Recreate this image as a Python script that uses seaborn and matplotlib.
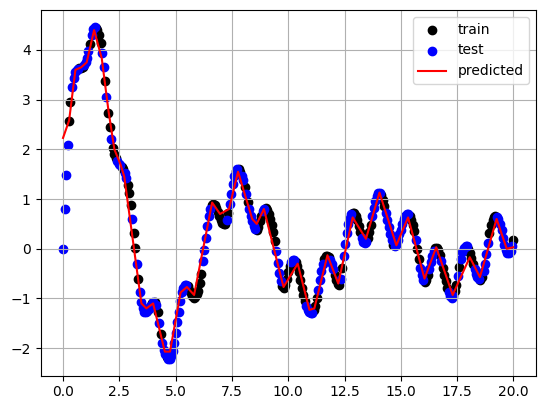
import matplotlib
matplotlib.use("Agg")
import matplotlib.pyplot as plt
import seaborn as sns
import numpy as np
import pandas as pd

# sample positions (15 per unit)
x_points = [
    0.00, 0.07, 0.13, 0.20, 0.27, 0.33, 0.40, 0.47, 0.53, 0.60, 0.67, 0.73, 0.80, 0.87, 0.93,
    1.00, 1.07, 1.13, 1.20, 1.27, 1.33, 1.40, 1.47, 1.53, 1.60, 1.67, 1.73, 1.80, 1.87, 1.93,
    2.00, 2.07, 2.13, 2.20, 2.27, 2.33, 2.40, 2.47, 2.53, 2.60, 2.67, 2.73, 2.80, 2.87, 2.93,
    3.00, 3.07, 3.13, 3.20, 3.27, 3.33, 3.40, 3.47, 3.53, 3.60, 3.67, 3.73, 3.80, 3.87, 3.93,
    4.00, 4.07, 4.13, 4.20, 4.27, 4.33, 4.40, 4.47, 4.53, 4.60, 4.67, 4.73, 4.80, 4.87, 4.93,
    5.00, 5.07, 5.13, 5.20, 5.27, 5.33, 5.40, 5.47, 5.53, 5.60, 5.67, 5.73, 5.80, 5.87, 5.93,
    6.00, 6.07, 6.13, 6.20, 6.27, 6.33, 6.40, 6.47, 6.53, 6.60, 6.67, 6.73, 6.80, 6.87, 6.93,
    7.00, 7.07, 7.13, 7.20, 7.27, 7.33, 7.40, 7.47, 7.53, 7.60, 7.67, 7.73, 7.80, 7.87, 7.93,
    8.00, 8.07, 8.13, 8.20, 8.27, 8.33, 8.40, 8.47, 8.53, 8.60, 8.67, 8.73, 8.80, 8.87, 8.93,
    9.00, 9.07, 9.13, 9.20, 9.27, 9.33, 9.40, 9.47, 9.53, 9.60, 9.67, 9.73, 9.80, 9.87, 9.93,
    10.00, 10.07, 10.13, 10.20, 10.27, 10.33, 10.40, 10.47, 10.53, 10.60, 10.67, 10.73, 10.80, 10.87, 10.93,
    11.00, 11.07, 11.13, 11.20, 11.27, 11.33, 11.40, 11.47, 11.53, 11.60, 11.67, 11.73, 11.80, 11.87, 11.93,
    12.00, 12.07, 12.13, 12.20, 12.27, 12.33, 12.40, 12.47, 12.53, 12.60, 12.67, 12.73, 12.80, 12.87, 12.93,
    13.00, 13.07, 13.13, 13.20, 13.27, 13.33, 13.40, 13.47, 13.53, 13.60, 13.67, 13.73, 13.80, 13.87, 13.93,
    14.00, 14.07, 14.13, 14.20, 14.27, 14.33, 14.40, 14.47, 14.53, 14.60, 14.67, 14.73, 14.80, 14.87, 14.93,
    15.00, 15.07, 15.13, 15.20, 15.27, 15.33, 15.40, 15.47, 15.53, 15.60, 15.67, 15.73, 15.80, 15.87, 15.93,
    16.00, 16.07, 16.13, 16.20, 16.27, 16.33, 16.40, 16.47, 16.53, 16.60, 16.67, 16.73, 16.80, 16.87, 16.93,
    17.00, 17.07, 17.13, 17.20, 17.27, 17.33, 17.40, 17.47, 17.53, 17.60, 17.67, 17.73, 17.80, 17.87, 17.93,
    18.00, 18.07, 18.13, 18.20, 18.27, 18.33, 18.40, 18.47, 18.53, 18.60, 18.67, 18.73, 18.80, 18.87, 18.93,
    19.00, 19.07, 19.13, 19.20, 19.27, 19.33, 19.40, 19.47, 19.53, 19.60, 19.67, 19.73, 19.80, 19.87, 19.93,
    20.00,
]

y_points = [
    0.00, 0.80, 1.49, 2.08, 2.57, 2.95, 3.25, 3.43, 3.55, 3.60, 3.62, 3.63, 3.64, 3.66, 3.70,
    3.75, 3.83, 3.97, 4.12, 4.30, 4.42, 4.47, 4.45, 4.40, 4.30, 4.15, 3.93, 3.65, 3.37, 3.05,
    2.73, 2.45, 2.20, 2.02, 1.90, 1.82, 1.76, 1.71, 1.68, 1.65, 1.60, 1.53, 1.42, 1.28, 1.12,
    0.88, 0.60, 0.32, 0.02, -0.30, -0.60, -0.88, -1.08, -1.20, -1.27, -1.28, -1.26, -1.22, -1.16, -1.10,
    -1.07, -1.08, -1.13, -1.28, -1.50, -1.72, -1.90, -2.03, -2.12, -2.18, -2.22, -2.22, -2.16, -2.06, -1.90,
    -1.70, -1.48, -1.27, -1.05, -0.88, -0.78, -0.73, -0.72, -0.75, -0.82, -0.90, -0.96, -0.99, -0.98, -0.92,
    -0.85, -0.68, -0.50, -0.25, -0.02, 0.22, 0.45, 0.65, 0.80, 0.88, 0.90, 0.88, 0.82, 0.74, 0.66,
    0.58, 0.52, 0.49, 0.50, 0.58, 0.72, 0.90, 1.10, 1.30, 1.47, 1.57, 1.61, 1.60, 1.55, 1.47,
    1.38, 1.25, 1.10, 0.95, 0.80, 0.66, 0.55, 0.45, 0.39, 0.38, 0.44, 0.55, 0.66, 0.76, 0.81,
    0.82, 0.78, 0.70, 0.60, 0.48, 0.33, 0.15, -0.05, -0.28, -0.48, -0.65, -0.75, -0.78, -0.72, -0.60,
    -0.47, -0.35, -0.27, -0.23, -0.22, -0.26, -0.34, -0.47, -0.62, -0.78, -0.93, -1.05, -1.15, -1.23, -1.28,
    -1.30, -1.29, -1.24, -1.15, -1.00, -0.82, -0.63, -0.45, -0.31, -0.21, -0.15, -0.14, -0.16, -0.22, -0.30,
    -0.40, -0.52, -0.63, -0.71, -0.72, -0.60, -0.38, -0.15, 0.10, 0.32, 0.50, 0.62, 0.69, 0.72, 0.71,
    0.66, 0.57, 0.45, 0.33, 0.21, 0.13, 0.11, 0.14, 0.22, 0.33, 0.48, 0.65, 0.82, 0.97, 1.07,
    1.12, 1.13, 1.08, 0.98, 0.86, 0.72, 0.58, 0.44, 0.30, 0.17, 0.08, 0.05, 0.08, 0.18, 0.30,
    0.38, 0.50, 0.60, 0.66, 0.69, 0.69, 0.65, 0.57, 0.47, 0.35, 0.18, 0.00, -0.20, -0.38, -0.52,
    -0.62, -0.66, -0.62, -0.52, -0.40, -0.27, -0.15, -0.05, 0.01, 0.02, -0.03, -0.12, -0.24, -0.38, -0.52,
    -0.65, -0.78, -0.88, -0.96, -0.99, -0.96, -0.86, -0.72, -0.55, -0.37, -0.20, -0.07, 0.02, 0.06, 0.05,
    0.00, -0.08, -0.18, -0.30, -0.41, -0.50, -0.57, -0.61, -0.62, -0.56, -0.45, -0.30, -0.10, 0.12, 0.32,
    0.47, 0.57, 0.63, 0.66, 0.64, 0.59, 0.50, 0.37, 0.22, 0.08, -0.03, -0.08, -0.09, -0.05, 0.05,
    0.18,
]

# k = train, b = test
split_codes = "".join([
    "bbbbkkbbbbbkkkb", "bbbkbbbkkkkbbkb", "kkbkkkbbbkkbbkk", "kbkkbkbbbbbkbbk",
    "bkbkbkbbbkbbbbb", "bbbbbbbbkkkkkkk", "kkkbbbbbbkkkkkk", "kkkkbkbbbbkbkkb",
    "bkbkbbbbbkkkkbb", "kkkkkkkbbbbkkkk", "kkbbbkkkkkkkbbb", "bbkkkbbbbkkkkbb",
    "bkkkkbkbbbbbbkk", "kkkkbbbbkkkbbbb", "bbkkkbbbbbkbbbb", "bbbbbbkkkkbkkbb",
    "bkkkbbbbkkkkbkk", "kkbbbbkkbkbbbbb", "kkkkbbbbkkbbbbk", "kkkkbbbbbbbbbbb",
    "k",
])

pred_x = [0.0, 0.27, 0.55, 0.8, 1.05, 1.38, 1.72, 2.02, 2.28, 2.55, 2.72, 3.48, 3.7, 4.0,
          4.52, 4.75, 5.22, 5.5, 5.82, 6.62, 6.97, 7.37, 7.77, 8.4, 8.6, 8.92, 9.79,
          10.42, 10.94, 11.16, 11.74, 12.22, 12.86, 13.45, 14.05, 14.8, 15.32, 16.05,
          16.57, 17.3, 18.06, 18.51, 19.25, 19.7, 19.99]
pred_y = [2.23, 2.58, 3.6, 3.65, 3.75, 4.4, 3.83, 2.77, 2.0, 1.7, 1.45, -1.1, -1.2, -1.1,
          -2.07, -2.07, -0.88, -0.77, -0.93, 0.93, 0.7, 0.8, 1.55, 0.6, 0.5, 0.8, -0.77,
          -0.3, -1.23, -1.2, -0.13, -0.7, 0.63, 0.2, 1.13, 0.07, 0.63, -0.6,
          0.03, -0.93, -0.17, -0.57, 0.6, 0.0, 0.03]

n = min(len(x_points), len(y_points), len(split_codes))
df = pd.DataFrame({"x": x_points[:n], "y": y_points[:n], "split": list(split_codes[:n])})
train = df[df["split"] == "k"]
test = df[df["split"] == "b"]

fig = plt.figure(figsize=(5.46, 4.13), dpi=100)
ax = fig.add_axes([40.5 / 546, (413 - 375.7) / 413, 495.5 / 546, 365.7 / 413])

sns.scatterplot(data=train, x="x", y="y", color="black", s=36, edgecolor="black",
                linewidth=1, label="train", ax=ax)
sns.scatterplot(data=test, x="x", y="y", color="blue", s=36, edgecolor="blue",
                linewidth=1, label="test", ax=ax)
sns.lineplot(x=pred_x, y=pred_y, color="red", linewidth=1.5, label="predicted",
             sort=False, estimator=None, ax=ax)

ax.set_xlabel("")
ax.set_ylabel("")
ax.grid(True)
ax.legend(loc="upper right")

fig.savefig("out.png", dpi=100)
